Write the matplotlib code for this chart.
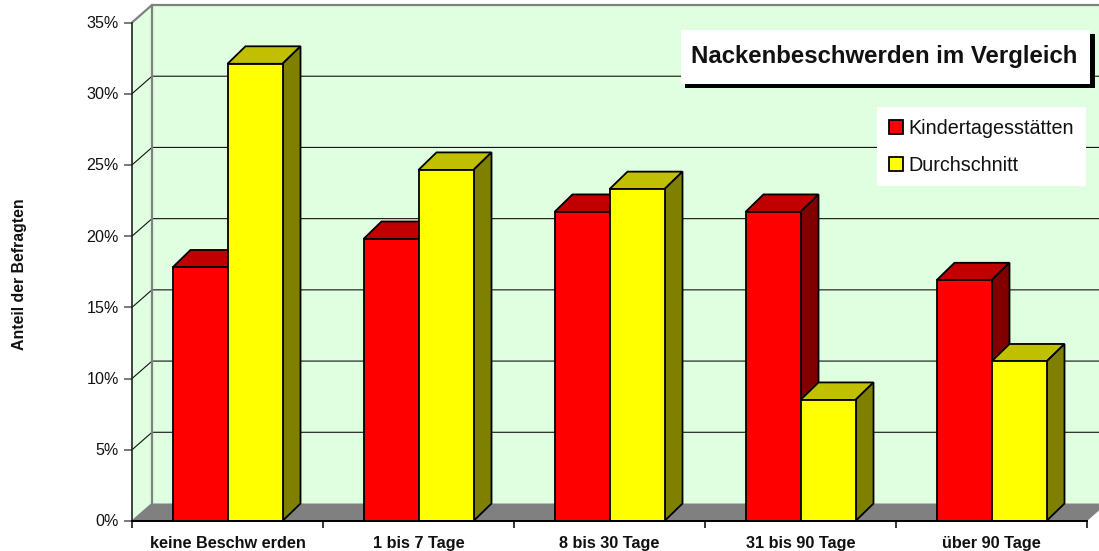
import matplotlib
matplotlib.use("Agg")
import matplotlib.pyplot as plt
from matplotlib.patches import Polygon, Rectangle
from matplotlib.transforms import ScaledTranslation

plt.rcParams['font.family'] = ['Liberation Sans', 'DejaVu Sans']

categories = ['keine Beschw erden', '1 bis 7 Tage', '8 bis 30 Tage', '31 bis 90 Tage', 'über 90 Tage']
kita = [17.8, 19.8, 21.7, 21.7, 16.9]
durchschnitt = [32.1, 24.65, 23.3, 8.5, 11.2]
yticks = [0, 5, 10, 15, 20, 25, 30, 35]

W, H = 1099, 551
fig = plt.figure(figsize=(W / 100, H / 100), dpi=100, facecolor='white')
ax = fig.add_axes([132 / W, (H - 521) / H, 955 / W, 498.5 / H])
ax.set_xlim(0, 5)
ax.set_ylim(0, 35)
ax.patch.set_visible(False)

# pixel -> data units
px = 5 / 955
py = 35 / 498.5
wall_dx = 20 * px
wall_dy = 17.5 * py
bar_dx = 18 * px
bar_dy = 17.5 * py
bar_w = 55 * px

GREEN = '#E0FFE0'
GREY = '#808080'

# Waende und Boden
right = 5 + wall_dx
ax.add_patch(Polygon([(wall_dx, wall_dy), (right, wall_dy), (right, 35 + wall_dy), (wall_dx, 35 + wall_dy)],
                     fc=GREEN, ec='none', clip_on=False, zorder=1))
ax.add_patch(Polygon([(0, 0), (wall_dx, wall_dy), (wall_dx, 35 + wall_dy), (0, 35)],
                     fc=GREEN, ec='none', clip_on=False, zorder=1))
ax.add_patch(Polygon([(0, 0), (wall_dx, wall_dy), (right, wall_dy), (5, 0)],
                     fc=GREY, ec='none', clip_on=False, zorder=1))

for v in yticks[1:-1]:
    ax.plot([0, wall_dx, right], [v, v + wall_dy, v + wall_dy], color='#111111', lw=0.8, clip_on=False, zorder=2)
ax.plot([0, wall_dx, right], [35, 35 + wall_dy, 35 + wall_dy], color=GREY, lw=1.6, clip_on=False, zorder=2)
ax.plot([wall_dx, wall_dx], [wall_dy, 35 + wall_dy], color=GREY, lw=1.6, clip_on=False, zorder=2)
ax.plot([0, wall_dx], [0, wall_dy], color=GREY, lw=1, clip_on=False, zorder=2)


def bar3d(x, h, front, top, side, label=None, z=3):
    ax.bar(x, h, width=bar_w, align='edge', color=front, edgecolor='black', linewidth=1.3, label=label,
           clip_on=False, zorder=z + 0.2)
    ax.add_patch(Polygon([(x, h), (x + bar_dx, h + bar_dy), (x + bar_w + bar_dx, h + bar_dy), (x + bar_w, h)],
                         fc=top, ec='black', lw=1.3, clip_on=False, zorder=z))
    ax.add_patch(Polygon([(x + bar_w, 0), (x + bar_w + bar_dx, bar_dy), (x + bar_w + bar_dx, h + bar_dy), (x + bar_w, h)],
                         fc=side, ec='black', lw=1.3, clip_on=False, zorder=z))


for i in range(len(categories)):
    c = i + 0.5
    bar3d(c - bar_w, kita[i], '#FF0000', '#C00000', '#800000',
          label='Kindertagesstätten' if i == 0 else None, z=3 + i)
    bar3d(c, durchschnitt[i], '#FFFF00', '#C0C000', '#808000',
          label='Durchschnitt' if i == 0 else None, z=3.4 + i)

# Achsen
for s in ['top', 'right']:
    ax.spines[s].set_visible(False)
ax.spines['left'].set_color('#222222')
ax.spines['left'].set_linewidth(1.2)
ax.spines['bottom'].set_color('black')
ax.spines['bottom'].set_linewidth(1.4)
ax.spines['bottom'].set_zorder(20)
ax.set_yticks(yticks)
ax.set_yticklabels([f'{v}%' for v in yticks], fontsize=11.6, color='#111111')
ax.tick_params(axis='y', length=6, width=1.1, color='#555555', pad=3.5)
shift = ScaledTranslation(0, 0.5 / 100, fig.dpi_scale_trans)
for lab in ax.get_yticklabels():
    lab.set_transform(lab.get_transform() + shift)
ax.set_xticks(range(6))
ax.set_xticklabels([])
ax.tick_params(axis='x', length=5, width=1.1, color='black')
for i, name in enumerate(categories):
    ax.annotate(name, (i + 0.5, 0), xytext=(0, -11), textcoords='offset points', ha='center', va='top',
                fontsize=11.7, fontweight='bold', color='#111111', annotation_clip=False)

fig.text(20 / W, 1 - 274 / H, 'Anteil der Befragten', rotation=90, ha='center', va='center',
         fontsize=11.4, fontweight='bold', color='#111111')

# Titelbox mit Schatten
ax_px = fig.transFigure
fig.add_artist(Rectangle((685 / W, 1 - 88 / H), 410 / W, 54 / H, transform=ax_px, fc='black', ec='none', zorder=30))
fig.add_artist(Rectangle((681 / W, 1 - 84 / H), 409 / W, 54 / H, transform=ax_px, fc='white', ec='none', zorder=31))
fig.text(884.5 / W, 1 - 56 / H, 'Nackenbeschwerden im Vergleich', ha='center', va='center',
         fontsize=17.3, fontweight='bold', color='#111111', zorder=32)

# Legende
leg = ax.legend(loc='upper left', bbox_to_anchor=(877 / W, 1 - 107 / H), bbox_transform=fig.transFigure,
                fontsize=14.2, frameon=True, facecolor='white', edgecolor='none', framealpha=1, fancybox=False,
                handlelength=0.7, handleheight=0.7, handletextpad=0.3, labelspacing=0.9,
                borderpad=0.6, borderaxespad=0, labelcolor='#111111')
leg.set_zorder(30)

fig.savefig('out.png', dpi=100)
